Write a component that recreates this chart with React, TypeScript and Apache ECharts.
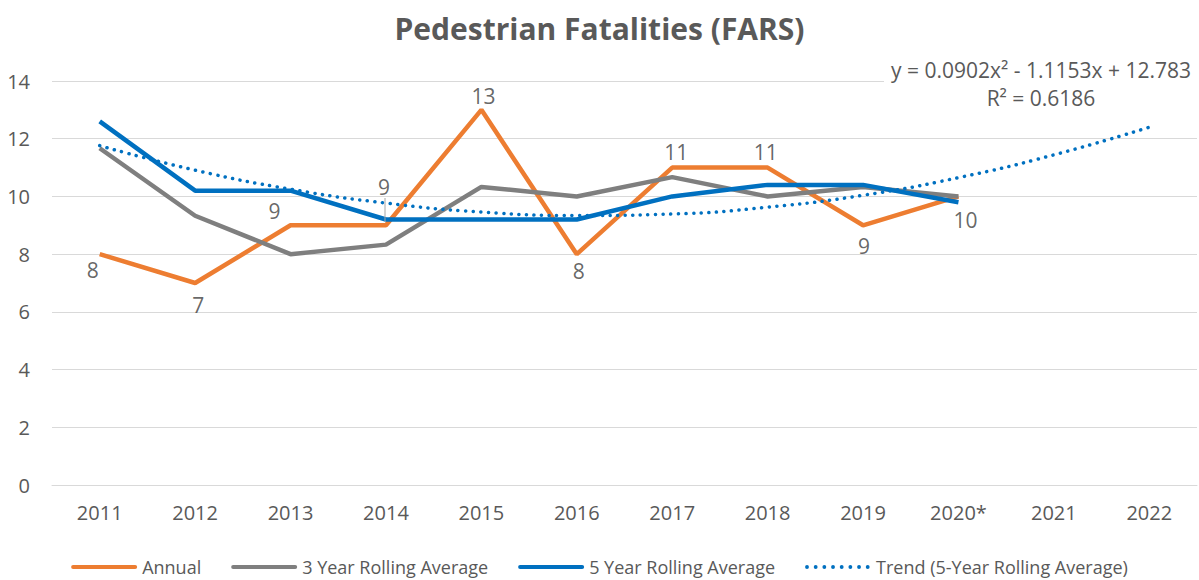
import React, { useEffect, useRef } from "react";
import * as echarts from "echarts";

const years = ["2011", "2012", "2013", "2014", "2015", "2016", "2017", "2018", "2019", "2020*", "2021", "2022"];
const annual = [8, 7, 9, 9, 13, 8, 11, 11, 9, 10];
const rolling3 = [11.67, 9.33, 8, 8.33, 10.33, 10, 10.67, 10, 10.33, 10];
const rolling5 = [12.6, 10.2, 10.2, 9.2, 9.2, 9.2, 10, 10.4, 10.4, 9.8];
const trend = [11.76, 10.91, 10.25, 9.77, 9.46, 9.34, 9.39, 9.63, 10.04, 10.65, 11.44, 12.4];
const yTicks = [0, 2, 4, 6, 8, 10, 12, 14];
const equationLines = ["y = 0.0902x\u00b2 - 1.1153x + 12.783", "R\u00b2 = 0.6186"];
const seriesNames = ["Annual", "3 Year Rolling Average", "5 Year Rolling Average", "Trend (5-Year Rolling Average)"];

// label placements for the annual data labels: position, distance, dx, dy
const labelPlacement: Array<[string, number, number, number]> = [
  ["bottom", 5, -7, 0],
  ["bottom", 11, 3, 0],
  ["top", 3, -16, 0],
  ["top", 27, -2, 0],
  ["top", 3, 2, 0],
  ["bottom", 6, 2, 0],
  ["top", 5, 4, 0],
  ["top", 5, -2, 0],
  ["bottom", 10, 1, 0],
  ["bottom", 13, 7, 0],
];

const FONT = "'Open Sans', 'Noto Sans', sans-serif";
const TXT = "#595959";

const solidIcon = "path://M2,0h64a2,2 0 0 1 0,4h-64a2,2 0 0 1 0,-4z";
const dottedIcon =
  "path://" +
  Array.from({ length: 8 }, (_, i) => `M${i * 9 + 1.5},0a2,2 0 1 1 0,4a2,2 0 1 1 0,-4z`).join(" ") +
  " M68,0v4";

export default function App() {
  const ref = useRef<HTMLDivElement>(null);
  useEffect(() => {
    document.body.style.margin = "0";
    const chart = echarts.init(ref.current!, null, { renderer: "svg" });
    const labelData = annual.map((v, i) => {
      const [pos, dist, dx, dy] = labelPlacement[i];
      return {
        value: [years[i], v],
        label: { position: pos, distance: dist, offset: [dx, dy] },
      };
    });
    chart.setOption({
      animation: false,
      backgroundColor: "#ffffff",
      textStyle: { fontFamily: FONT },
      title: {
        text: "Pedestrian Fatalities (FARS)",
        left: "center",
        top: 8,
        textStyle: { fontFamily: FONT, fontSize: 30, fontWeight: "bold", color: TXT },
      },
      grid: { left: 52, right: 2, top: 81, bottom: 95 },
      legend: {
        bottom: -1,
        left: "center",
        itemWidth: 66,
        itemHeight: 4,
        itemGap: 30,
        textStyle: { fontFamily: FONT, fontSize: 18, color: TXT },
        data: seriesNames.map((n, i) => ({
          name: n,
          icon: i === 3 ? dottedIcon : solidIcon,
          itemStyle: { borderWidth: 0 },
        })),
      },
      xAxis: {
        type: "category",
        data: years,
        boundaryGap: true,
        axisLine: { show: true, lineStyle: { color: "#D9D9D9", width: 1 } },
        axisTick: { show: false },
        axisLabel: { color: TXT, fontSize: 20, margin: 17, fontFamily: FONT },
      },
      yAxis: {
        type: "value",
        min: yTicks[0],
        max: yTicks[yTicks.length - 1],
        interval: 2,
        axisLine: { show: false },
        axisTick: { show: false },
        axisLabel: { color: TXT, fontSize: 20, margin: 22, fontFamily: FONT },
        splitLine: { lineStyle: { color: "#D9D9D9", width: 1 } },
      },
      series: [
        {
          name: seriesNames[0],
          type: "line",
          data: annual,
          symbol: "none",
          color: "#ED7D31",
          lineStyle: { width: 4.5, color: "#ED7D31" },
          z: 2,
        },
        {
          name: seriesNames[1],
          type: "line",
          data: rolling3,
          symbol: "none",
          color: "#7F7F7F",
          lineStyle: { width: 4.5, color: "#7F7F7F" },
          z: 3,
        },
        {
          name: seriesNames[2],
          type: "line",
          data: rolling5,
          symbol: "none",
          color: "#0070C0",
          lineStyle: { width: 4.5, color: "#0070C0" },
          z: 4,
        },
        {
          name: seriesNames[3],
          type: "line",
          data: trend,
          symbol: "none",
          smooth: true,
          color: "#0070C0",
          lineStyle: { width: 3.5, color: "#0070C0", type: [0.1, 7.5], cap: "round" },
          z: 5,
        },
        {
          name: "annual-labels",
          type: "scatter",
          data: labelData,
          symbolSize: 1,
          itemStyle: { color: "rgba(0,0,0,0)" },
          label: { show: true, color: "#404040", fontSize: 21, fontFamily: FONT, formatter: (p: any) => String(p.value[1]) },
          silent: true,
          z: 6,
        },
      ],
      graphic: [
        {
          type: "rect",
          shape: { x: 884, y: 55, width: 315, height: 58 },
          style: { fill: "#ffffff" },
          z: 10,
        },
        {
          type: "line",
          shape: { x1: 385, y1: 198, x2: 385, y2: 222 },
          style: { stroke: "#A6A6A6", lineWidth: 1 },
          z: 10,
        },
        {
          type: "text",
          x: 1041,
          y: 56,
          z: 11,
          style: {
            text: equationLines.join("\n"),
            align: "center",
            verticalAlign: "top",
            font: `21px ${FONT}`,
            fill: TXT,
            lineHeight: 28,
          },
        },
      ],
    });
    return () => chart.dispose();
  }, []);
  return <div ref={ref} style={{ width: 1199, height: 580 }} />;
}
